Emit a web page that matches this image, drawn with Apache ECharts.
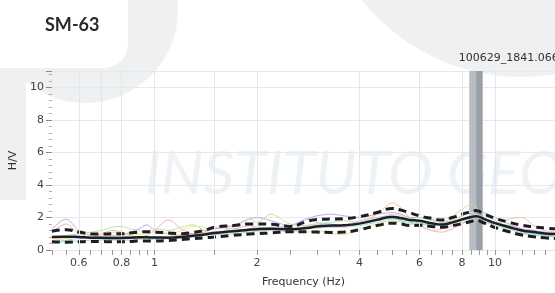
<!DOCTYPE html>
<html>
<head>
<meta charset="utf-8">
<script src="https://cdn.jsdelivr.net/npm/echarts@6/dist/echarts.min.js"></script>
<style>
  html, body { margin: 0; padding: 0; background: #fff; }
  #chart { width: 555px; height: 293px; }
</style>
</head>
<body>
<div id="chart"></div>
<script>
// frequencies (Hz) where the curves are sampled
const freqs = [0.5, 0.55, 0.6, 0.65, 0.7, 0.75, 0.8, 0.85, 0.9, 0.95,
  1.0, 1.1, 1.2, 1.3, 1.4, 1.5, 1.7, 1.9, 2.0, 2.2,
  2.5, 2.8, 3.0, 3.3, 3.6, 4.0, 4.5, 5.0, 5.3, 5.6,
  6.0, 6.5, 7.0, 7.5, 8.0, 8.5, 8.8, 9.3, 10, 11,
  12, 13, 14, 15];

// average H/V and +/- std
const hvMean = [0.80, 0.82, 0.80, 0.76, 0.75, 0.74, 0.74, 0.76, 0.78, 0.78,
  0.77, 0.76, 0.80, 0.88, 0.95, 1.05, 1.15, 1.25, 1.28, 1.30,
  1.28, 1.35, 1.45, 1.50, 1.52, 1.62, 1.85, 2.03, 1.95, 1.85,
  1.80, 1.65, 1.56, 1.70, 1.88, 2.02, 2.08, 1.90, 1.65, 1.40,
  1.20, 1.10, 1.02, 0.98];
const hvUpper = [1.15, 1.25, 1.10, 1.00, 0.98, 1.00, 1.00, 1.05, 1.10, 1.12,
  1.10, 1.05, 1.00, 1.08, 1.20, 1.40, 1.50, 1.60, 1.60, 1.58,
  1.45, 1.75, 1.88, 1.90, 1.92, 2.05, 2.30, 2.55, 2.45, 2.30,
  2.10, 1.95, 1.85, 2.00, 2.20, 2.35, 2.42, 2.20, 1.95, 1.70,
  1.52, 1.42, 1.35, 1.30];
const hvLower = [0.50, 0.48, 0.50, 0.52, 0.52, 0.50, 0.50, 0.52, 0.55, 0.55,
  0.55, 0.58, 0.65, 0.70, 0.75, 0.80, 0.90, 0.98, 1.00, 1.05,
  1.12, 1.12, 1.10, 1.08, 1.10, 1.25, 1.50, 1.65, 1.60, 1.50,
  1.52, 1.45, 1.40, 1.50, 1.62, 1.75, 1.82, 1.65, 1.38, 1.12,
  0.92, 0.82, 0.75, 0.70];

// individual windows
const win1 = [1.30, 1.90, 1.20, 0.90, 0.80, 0.85, 0.90, 1.10, 1.30, 1.55,
  1.20, 1.00, 0.90, 1.00, 1.20, 1.30, 1.50, 1.90, 2.00, 1.80,
  1.50, 1.90, 2.10, 2.20, 2.10, 2.00, 2.20, 2.30, 2.20, 2.00,
  2.00, 1.90, 1.70, 1.80, 2.10, 2.30, 2.50, 2.30, 2.00, 1.60,
  1.30, 1.20, 1.10, 1.05];
const win2 = [1.10, 1.60, 1.00, 0.80, 1.00, 1.20, 1.10, 0.90, 0.80, 0.90,
  1.20, 1.85, 1.30, 1.00, 1.10, 1.40, 1.30, 1.50, 1.40, 1.30,
  1.10, 1.50, 1.60, 1.40, 1.50, 1.80, 2.00, 2.10, 2.00, 1.80,
  1.50, 1.20, 1.10, 1.30, 1.60, 1.90, 2.00, 1.80, 1.70, 1.50,
  1.30, 1.10, 0.90, 0.85];
const win3 = [0.80, 0.90, 1.00, 1.10, 1.20, 1.40, 1.45, 1.30, 1.20, 1.10,
  1.30, 1.20, 1.40, 1.55, 1.20, 1.00, 1.40, 1.90, 1.70, 2.20,
  1.60, 1.50, 1.60, 1.70, 1.80, 1.70, 1.90, 2.20, 2.10, 1.90,
  2.00, 1.80, 1.70, 2.10, 2.50, 2.80, 2.60, 2.20, 1.80, 1.40,
  1.20, 1.10, 1.00, 0.95];
const win4 = [0.60, 0.70, 0.80, 0.85, 0.90, 1.10, 1.00, 0.90, 0.95, 1.00,
  1.10, 1.00, 1.20, 1.45, 1.40, 1.10, 1.20, 1.30, 1.40, 1.30,
  1.20, 1.10, 1.20, 1.00, 0.95, 1.30, 1.60, 1.80, 1.70, 1.60,
  1.70, 1.60, 1.50, 1.80, 2.10, 2.30, 2.20, 1.90, 1.60, 1.30,
  1.00, 0.90, 0.85, 0.80];
const win5 = [0.50, 0.60, 0.70, 0.70, 0.65, 0.60, 0.65, 0.70, 0.75, 0.70,
  0.70, 0.75, 0.80, 0.90, 1.00, 1.10, 1.20, 1.30, 1.35, 1.40,
  1.50, 1.90, 1.70, 1.60, 1.50, 1.70, 1.90, 2.00, 1.80, 1.60,
  1.60, 1.50, 1.50, 1.70, 1.90, 2.10, 2.20, 2.00, 1.70, 1.40,
  1.10, 1.00, 0.90, 0.85];
const win6 = [0.45, 0.50, 0.55, 0.60, 0.60, 0.65, 0.60, 0.60, 0.65, 0.70,
  0.65, 0.70, 0.75, 0.80, 0.90, 0.95, 1.00, 1.10, 1.15, 1.20,
  1.25, 1.30, 1.35, 1.40, 1.45, 1.50, 1.70, 1.90, 1.80, 1.70,
  1.65, 1.55, 1.50, 1.60, 1.80, 1.90, 2.00, 1.80, 1.50, 1.30,
  1.05, 0.95, 0.85, 0.80];
const win7 = [0.70, 0.80, 0.75, 0.70, 0.80, 0.90, 0.85, 0.80, 0.70, 0.75,
  0.80, 0.85, 0.90, 1.00, 1.05, 1.10, 1.10, 1.20, 1.25, 1.20,
  1.30, 1.40, 1.50, 1.45, 1.40, 1.60, 2.20, 2.90, 2.60, 2.00,
  1.60, 1.20, 1.30, 1.50, 1.70, 1.80, 1.90, 1.70, 1.60, 1.90,
  2.00, 1.50, 1.20, 1.10];

const windows = [win1, win2, win3, win4, win5, win6, win7];
const winColors = ['#c0a6e6', '#eeb0cc', '#c0e2a6', '#ece688', '#a9d2f0', '#9ce0d8', '#f4c39a'];

// axis ticks / labels
const xLabels = [0.6, 0.8, 1, 2, 4, 6, 8, 10];
const xTicks = [0.5, 0.55, 0.6, 0.65, 0.7, 0.75, 0.8, 0.85, 0.9, 0.95, 1, 1.5,
  2, 2.5, 3, 3.5, 4, 4.5, 5, 5.5, 6, 6.5, 7, 7.5, 8, 8.5, 9, 9.5, 10, 11, 12, 13, 14];
const xGrid = [0.6, 0.7, 0.8, 1, 1.5, 2, 4, 6, 8, 10];

// selected peak band
const peakBand = [8.4, 8.8, 9.2];
const peakName = '100629_1841.066';

const pairs = (ys) => freqs.map((f, i) => [f, ys[i]]);

const chart = echarts.init(document.getElementById('chart'));

const series = [];
series.push({
  type: 'line',
  data: [],
  z: 1,
  silent: true,
  markLine: {
    silent: true,
    symbol: ['none', 'none'],
    label: { show: false },
    lineStyle: { color: '#e4e7ea', width: 1, type: 'solid' },
    data: xGrid.map(f => ({ xAxis: f }))
  },
  markArea: {
    silent: true,
    data: [
      [{ xAxis: peakBand[0], itemStyle: { color: '#b8bcc3' },
         label: { show: true, position: 'top', align: 'left', offset: [-14, -2], formatter: peakName,
                  color: '#333', fontSize: 11, fontFamily: 'DejaVu Sans' } },
       { xAxis: peakBand[1] }],
      [{ xAxis: peakBand[1], itemStyle: { color: '#9aa0a8' }, label: { show: false } },
       { xAxis: peakBand[2] }]
    ]
  }
});

windows.forEach((w, i) => {
  series.push({
    type: 'line', data: pairs(w), showSymbol: false, symbol: 'none', smooth: 0.3,
    lineStyle: { color: winColors[i], width: 1 }, z: 2
  });
});

[hvUpper, hvLower].forEach(arr => {
  series.push({
    type: 'line', data: pairs(arr), symbol: 'none', smooth: true,
    lineStyle: { color: '#1e1e1e', width: 3, type: [8, 5] }, z: 4
  });
});

series.push({
  type: 'line', data: pairs(hvMean), symbol: 'none', smooth: true,
  lineStyle: { color: '#1c1f2a', width: 2.5 }, z: 5
});

const option = {
  animation: false,
  backgroundColor: '#fff',
  title: {
    text: 'SM-63', left: 40, top: 11,
    textStyle: { fontSize: 18, fontWeight: 'bold', color: '#2a2a2a', fontFamily: 'Lato' }
  },
  graphic: [
    { type: 'rect', z: -10, silent: true, shape: { x: 0, y: 60, width: 26, height: 140 }, style: { fill: '#eef0f2' } },
    { type: 'circle', z: -10, silent: true, shape: { cx: 85, cy: 10, r: 93 }, style: { fill: '#eef0f2' } },
    { type: 'rect', z: -9, silent: true, shape: { x: -40, y: -30, width: 168, height: 98, r: 24 }, style: { fill: '#fff' } },
    { type: 'circle', z: -10, silent: true, shape: { cx: 522, cy: -128, r: 205 }, style: { fill: '#eef0f2' } },
    { type: 'text', z: -8, silent: true, x: 145, y: 205,
      style: { text: 'INSTITUTO GEOF', fill: '#edf2f6', fontSize: 60, fontStyle: 'italic',
               fontFamily: 'Lato', textVerticalAlign: 'bottom' } }
  ],
  grid: { left: 48, right: 0, top: 71, bottom: 40 },
  xAxis: {
    type: 'log', logBase: 10, min: 0.5, max: 15,
    name: 'Frequency (Hz)', nameLocation: 'middle', nameGap: 27,
    nameTextStyle: { fontSize: 11, color: '#333', fontFamily: 'DejaVu Sans' },
    axisLine: { show: true, lineStyle: { color: '#e4e7ea' } },
    axisTick: { show: true, length: 5, lineStyle: { color: '#999' }, customValues: xTicks },
    axisLabel: { customValues: xLabels, fontSize: 11, color: '#444', margin: 8, fontFamily: 'DejaVu Sans' },
    splitLine: { show: false },
    minorTick: { show: false }
  },
  yAxis: {
    type: 'value', min: 0, max: 11, interval: 2,
    name: 'H/V', nameLocation: 'middle', nameGap: 24,
    nameTextStyle: { fontSize: 11, color: '#333', fontFamily: 'DejaVu Sans' },
    axisLine: { show: false },
    axisTick: { show: true, length: 6, lineStyle: { color: '#888' } },
    minorTick: { show: true, splitNumber: 5, length: 3, lineStyle: { color: '#aaa' } },
    axisLabel: { fontSize: 11, color: '#444', margin: 8, showMaxLabel: false, fontFamily: 'DejaVu Sans' },
    splitLine: { show: true, lineStyle: { color: '#e6e9ec' } }
  },
  series: series
};

chart.setOption(option);
</script>
</body>
</html>
